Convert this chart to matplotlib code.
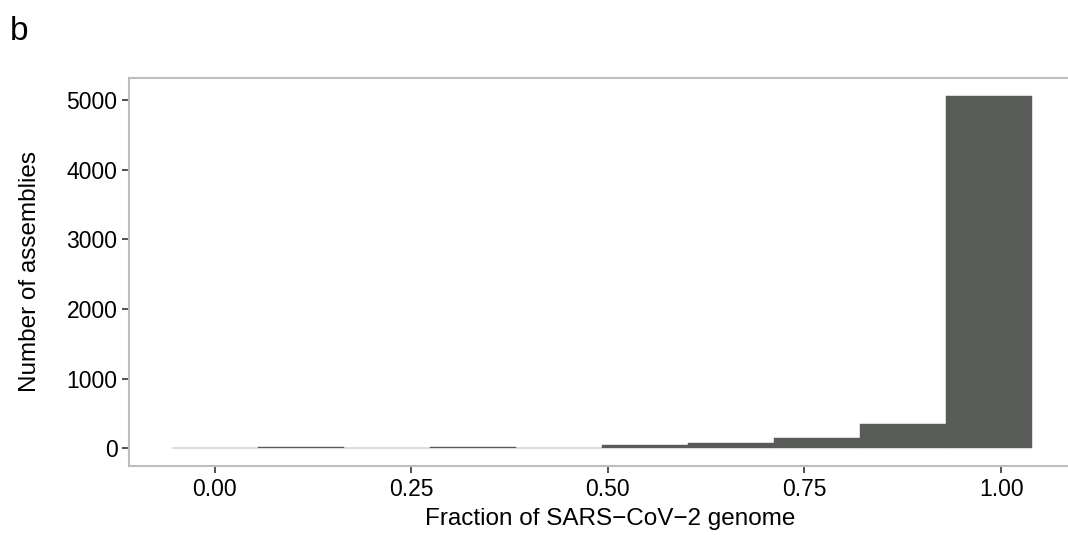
import numpy as np
import matplotlib
matplotlib.use("Agg")
import matplotlib.pyplot as plt

plt.rcParams['font.family'] = ['Liberation Sans', 'DejaVu Sans']

# histogram bins (10 bins)
bin_edges = [-0.0547, 0.0547, 0.1641, 0.2735, 0.3829, 0.4923, 0.6017,
             0.7111, 0.8205, 0.9299, 1.0393]
counts = [3, 15, 12, 20, 9, 51, 71, 151, 357, 5065]

x_ticks = [0.00, 0.25, 0.50, 0.75, 1.00]
x_tick_labels = ["0.00", "0.25", "0.50", "0.75", "1.00"]
y_ticks = [0, 1000, 2000, 3000, 4000, 5000]

fig = plt.figure(figsize=(10.68, 5.35), dpi=100)
# panel runs past the right edge of the picture, like the reference crop
left, right = 128.5, 1075
ax = fig.add_axes([left / 1068, 1 - 466 / 535, (right - left) / 1068, (466 - 78) / 535])

edges = np.array(bin_edges)
ax.bar(edges[:-1], counts, width=np.diff(edges), align='edge',
       color='#595b59', edgecolor='#595b59', linewidth=0.3)

span = edges[-1] - edges[0]
ax.set_xlim(edges[0] - 0.05 * span, edges[-1] + 0.05 * span)
top = max(counts)
ax.set_ylim(-0.05 * top, top * 1.05)

ax.set_xticks(x_ticks)
ax.set_xticklabels(x_tick_labels)
ax.set_yticks(y_ticks)

for s in ax.spines.values():
    s.set_color('#bdbdbd')
    s.set_linewidth(1.5)
ax.spines['right'].set_visible(False)

ax.tick_params(axis='both', direction='out', length=5, width=1.2,
               color='#333333', labelsize=16.5, labelcolor='black', pad=3)
ax.tick_params(axis='x', pad=4)

ax.set_xlabel("Fraction of SARS\u2212CoV\u22122 genome", fontsize=17.5)
ax.set_ylabel("Number of assemblies", fontsize=17.5)
ax.xaxis.set_label_coords((610 - left) / (right - left), (466 - 508) / 388)
ax.xaxis.label.set_va('top')
ax.yaxis.set_label_coords((30 - left) / (right - left), 0.5)
ax.yaxis.label.set_va('center')

fig.text(10 / 1068, 1 - 40 / 535, "b", fontsize=24, ha='left', va='baseline')

fig.savefig("out.png", dpi=100)
